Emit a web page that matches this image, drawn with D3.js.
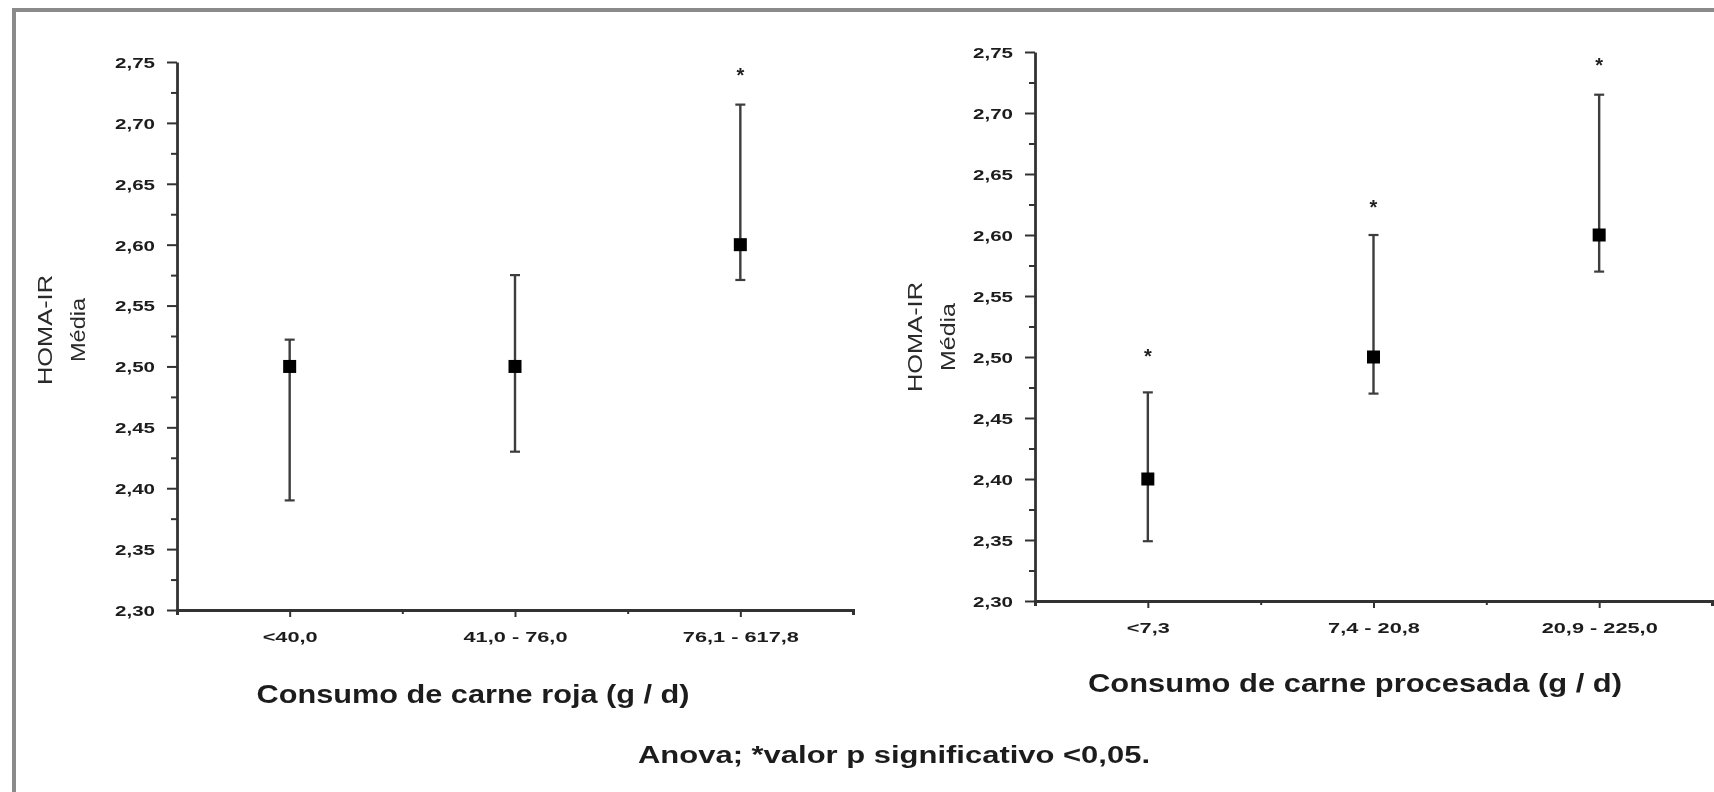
<!DOCTYPE html>
<html>
<head>
<meta charset="utf-8">
<script src="https://cdn.jsdelivr.net/npm/d3@7"></script>
<style>
  html, body { margin: 0; padding: 0; background: #fff; }
  svg { display: block; }
</style>
</head>
<body>
<svg id="chart" width="1714" height="792"></svg>
<script>
// ---------------- data ----------------
const leftCategories  = ["<40,0", "41,0 - 76,0", "76,1 - 617,8"];
const leftMean        = [2.50, 2.50, 2.60];
const leftUpper       = [2.522, 2.575, 2.715];
const leftLower       = [2.39, 2.43, 2.571];
const leftStar        = [null, null, 2.743];

const rightCategories = ["<7,3", "7,4 - 20,8", "20,9 - 225,0"];
const rightMean       = [2.40, 2.50, 2.60];
const rightUpper      = [2.471, 2.60, 2.715];
const rightLower      = [2.349, 2.47, 2.57];
const rightStar       = [2.505, 2.627, 2.743];

const yTicks      = [2.30, 2.35, 2.40, 2.45, 2.50, 2.55, 2.60, 2.65, 2.70, 2.75];
const yMinorTicks = [2.325, 2.375, 2.425, 2.475, 2.525, 2.575, 2.625, 2.675, 2.725];
const yLabelLines = ["HOMA-IR", "Média"];
const leftXTitle  = "Consumo de carne roja (g / d)";
const rightXTitle = "Consumo de carne procesada (g / d)";
const footnote    = "Anova; *valor p significativo <0,05.";

// ---------------- helpers ----------------
const svg = d3.select("#chart");
const FONT = "'Liberation Sans', Arial, sans-serif";
const fmt = v => d3.format(".2f")(v).replace(".", ",");

function stretch(sel, k) {
  sel.each(function () {
    const w = this.getComputedTextLength();
    d3.select(this).attr("textLength", w * k).attr("lengthAdjust", "spacingAndGlyphs");
  });
}
function fitTo(sel, width) {
  sel.attr("textLength", width).attr("lengthAdjust", "spacingAndGlyphs");
}

const defs = svg.append("defs");
defs.append("filter").attr("id", "soft")
  .attr("x", "-5%").attr("y", "-5%").attr("width", "110%").attr("height", "110%")
  .append("feGaussianBlur").attr("stdDeviation", 0.45);

svg.append("rect").attr("width", 1714).attr("height", 792).attr("fill", "#fff");
const root = svg.append("g").attr("filter", "url(#soft)");

// outer frame
root.append("rect")
  .attr("x", 14).attr("y", 10).attr("width", 1720).attr("height", 800)
  .attr("fill", "none").attr("stroke", "#8a8a8a").attr("stroke-width", 4);

function drawPanel(cfg) {
  const x = d3.scaleLinear().domain([0.5, 3.5]).range(cfg.xRange);
  const y = d3.scaleLinear().domain([2.30, 2.75]).range(cfg.yRange);
  const g = root.append("g");
  const axisColor = "#333";

  g.append("g").attr("transform", `translate(${cfg.xRange[0]},0)`)
    .call(d3.axisLeft(y).tickValues(yMinorTicks).tickSize(6).tickSizeOuter(0).tickFormat(""))
    .call(a => a.select(".domain").remove())
    .call(a => a.selectAll("line").attr("stroke", axisColor).attr("stroke-width", 2));

  const ya = g.append("g").attr("transform", `translate(${cfg.xRange[0]},0)`)
    .call(d3.axisLeft(y).tickValues(yTicks).tickSize(10).tickSizeOuter(0).tickFormat(fmt));
  ya.select(".domain").attr("stroke", axisColor).attr("stroke-width", 2.8);
  ya.selectAll(".tick line").attr("stroke", axisColor).attr("stroke-width", 2);
  ya.selectAll(".tick text")
    .attr("x", -22).attr("dy", "0.36em")
    .attr("font-family", FONT).attr("font-size", 15).attr("font-weight", "bold")
    .attr("fill", "#1e1e1e").call(stretch, 1.37);

  g.append("g").attr("transform", `translate(0,${cfg.yRange[0]})`)
    .call(d3.axisBottom(x).tickValues([1.5, 2.5]).tickSize(4).tickSizeOuter(0).tickFormat(""))
    .call(a => a.select(".domain").remove())
    .call(a => a.selectAll("line").attr("stroke", axisColor).attr("stroke-width", 2));

  const xa = g.append("g").attr("transform", `translate(0,${cfg.yRange[0]})`)
    .call(d3.axisBottom(x).tickValues([1, 2, 3]).tickSize(7).tickSizeOuter(5)
      .tickFormat(d => cfg.categories[d - 1]));
  xa.select(".domain").attr("stroke", axisColor).attr("stroke-width", 3);
  xa.selectAll(".tick line").attr("stroke", axisColor).attr("stroke-width", 2);
  xa.selectAll(".tick text")
    .attr("y", 27).attr("dy", "0.36em")
    .attr("font-family", FONT).attr("font-size", 15).attr("font-weight", "bold")
    .attr("fill", "#1e1e1e").call(stretch, 1.45);

  const idx = cfg.mean.map((_, i) => i);

  const eb = g.append("g");
  eb.selectAll("line.v").data(idx).join("line").attr("class", "v")
    .attr("x1", i => x(i + 1)).attr("x2", i => x(i + 1))
    .attr("y1", i => y(cfg.lower[i])).attr("y2", i => y(cfg.upper[i]))
    .attr("stroke", "#3c3c3c").attr("stroke-width", 2.4);
  eb.selectAll("line.capU").data(idx).join("line").attr("class", "capU")
    .attr("x1", i => x(i + 1) - 5).attr("x2", i => x(i + 1) + 5)
    .attr("y1", i => y(cfg.upper[i])).attr("y2", i => y(cfg.upper[i]))
    .attr("stroke", "#3c3c3c").attr("stroke-width", 2.2);
  eb.selectAll("line.capL").data(idx).join("line").attr("class", "capL")
    .attr("x1", i => x(i + 1) - 5).attr("x2", i => x(i + 1) + 5)
    .attr("y1", i => y(cfg.lower[i])).attr("y2", i => y(cfg.lower[i]))
    .attr("stroke", "#3c3c3c").attr("stroke-width", 2.2);

  const s = 13;
  g.selectAll("rect.mk").data(idx).join("rect").attr("class", "mk")
    .attr("x", i => x(i + 1) - s / 2).attr("y", i => y(cfg.mean[i]) - s / 2)
    .attr("width", s).attr("height", s).attr("fill", "#000");

  g.selectAll("text.star").data(idx.filter(i => cfg.star[i] != null)).join("text")
    .attr("class", "star")
    .attr("x", i => x(i + 1)).attr("y", i => y(cfg.star[i]))
    .attr("dy", "0.58em").attr("text-anchor", "middle")
    .attr("font-family", FONT).attr("font-size", 20).attr("font-weight", "bold")
    .attr("fill", "#222").text("*");

  yLabelLines.forEach((line, j) => {
    g.append("text")
      .attr("transform", `translate(${cfg.yTitleX[j]},${cfg.yTitleY}) rotate(-90)`)
      .attr("text-anchor", "middle")
      .attr("font-family", FONT).attr("font-size", 20)
      .attr("fill", "#2a2a2a").text(line)
      .call(fitTo, cfg.yTitleW[j]);
  });

  g.append("text")
    .attr("x", cfg.xTitlePos[0]).attr("y", cfg.xTitlePos[1]).attr("dy", "0.36em")
    .attr("text-anchor", "middle")
    .attr("font-family", FONT).attr("font-size", 25).attr("font-weight", "bold")
    .attr("fill", "#1e1e1e").text(cfg.xTitle)
    .call(fitTo, cfg.xTitleW);
}

drawPanel({
  categories: leftCategories, mean: leftMean, upper: leftUpper, lower: leftLower, star: leftStar,
  xRange: [177, 853], yRange: [610, 62],
  yTitleX: [52, 85], yTitleY: 330, yTitleW: [110, 64],
  xTitle: leftXTitle, xTitlePos: [473, 694], xTitleW: 433
});

drawPanel({
  categories: rightCategories, mean: rightMean, upper: rightUpper, lower: rightLower, star: rightStar,
  xRange: [1035, 1712], yRange: [601, 52],
  yTitleX: [922, 955], yTitleY: 337, yTitleW: [110, 68],
  xTitle: rightXTitle, xTitlePos: [1355, 683], xTitleW: 534
});

root.append("text")
  .attr("x", 894).attr("y", 755).attr("dy", "0.36em").attr("text-anchor", "middle")
  .attr("font-family", FONT).attr("font-size", 23).attr("font-weight", "bold")
  .attr("fill", "#1e1e1e").text(footnote)
  .call(fitTo, 512);
</script>
</body>
</html>
